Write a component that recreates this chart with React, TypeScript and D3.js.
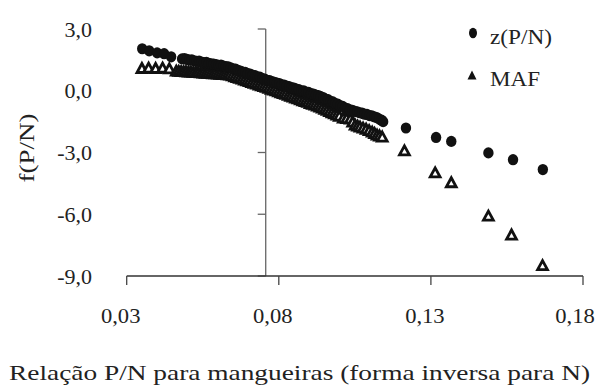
import React from "react";
import * as d3 from "d3";

const xTicks = [0.03, 0.08, 0.13, 0.18];
const yTicks = [3, 0, -3, -6, -9];

const zX = [0.0351, 0.0374, 0.0400, 0.0423, 0.0446,
  0.0482, 0.0490, 0.0498, 0.0506, 0.0514, 0.0522, 0.0530, 0.0538, 0.0546, 0.0554, 0.0562, 0.0570, 0.0578, 0.0586, 0.0594, 0.0602, 0.0610, 0.0618, 0.0626, 0.0634, 0.0642, 0.0650, 0.0658, 0.0666, 0.0674, 0.0682, 0.0690, 0.0698, 0.0706, 0.0714, 0.0722, 0.0730, 0.0738, 0.0746, 0.0754, 0.0762, 0.0770, 0.0778, 0.0786, 0.0794, 0.0802, 0.0810, 0.0818, 0.0826, 0.0834, 0.0842, 0.0850, 0.0858, 0.0866, 0.0874, 0.0882, 0.0890, 0.0898, 0.0906, 0.0914, 0.0922, 0.0930, 0.0938, 0.0946, 0.0954, 0.0962, 0.0970, 0.0978, 0.0986, 0.0994, 0.1002, 0.1010, 0.1018, 0.1026, 0.1034, 0.1042, 0.1050, 0.1058, 0.1066, 0.1074, 0.1082, 0.1090, 0.1098, 0.1106, 0.1114, 0.1122, 0.1130, 0.1138, 0.1143,
  0.1218, 0.1317, 0.1367, 0.1489, 0.1570, 0.1668];
const zY = [2.04, 1.94, 1.84, 1.80, 1.65,
  1.55, 1.56, 1.52, 1.49, 1.50, 1.45, 1.43, 1.44, 1.39, 1.37, 1.38, 1.33, 1.31, 1.29, 1.27, 1.24, 1.25, 1.20, 1.17, 1.16, 1.11, 1.07, 1.05, 0.99, 0.96, 0.91, 0.89, 0.83, 0.81, 0.75, 0.73, 0.67, 0.66, 0.59, 0.56, 0.51, 0.49, 0.44, 0.41, 0.37, 0.35, 0.29, 0.27, 0.22, 0.20, 0.15, 0.13, 0.08, 0.05, 0.00, -0.01, -0.07, -0.08, -0.14, -0.16, -0.21, -0.23, -0.29, -0.33, -0.40, -0.43, -0.51, -0.54, -0.62, -0.65, -0.73, -0.76, -0.84, -0.87, -0.93, -0.95, -1.00, -1.02, -1.07, -1.09, -1.14, -1.15, -1.21, -1.22, -1.27, -1.30, -1.38, -1.43, -1.50,
  -1.81, -2.27, -2.46, -3.02, -3.35, -3.83];

const mafX = [0.0350, 0.0372, 0.0395, 0.0418, 0.0440,
  0.0463, 0.0471, 0.0479, 0.0487, 0.0495, 0.0503, 0.0511, 0.0519, 0.0527, 0.0535, 0.0543, 0.0551, 0.0559, 0.0567, 0.0575, 0.0583, 0.0591, 0.0599, 0.0607, 0.0615, 0.0623, 0.0631, 0.0639, 0.0647, 0.0655, 0.0663, 0.0671, 0.0679, 0.0687, 0.0695, 0.0703, 0.0711, 0.0719, 0.0727, 0.0735, 0.0743, 0.0751, 0.0759, 0.0767, 0.0775, 0.0783, 0.0791, 0.0799, 0.0807, 0.0815, 0.0823, 0.0831, 0.0839, 0.0847, 0.0855, 0.0863, 0.0871, 0.0879, 0.0887, 0.0895, 0.0903, 0.0911, 0.0919, 0.0927, 0.0935, 0.0943, 0.0951, 0.0959, 0.0967, 0.0975, 0.0983, 0.0991, 0.0999, 0.1012, 0.1023, 0.1035, 0.1043, 0.1051, 0.1059, 0.1067, 0.1077, 0.1087, 0.1097, 0.1107, 0.1115, 0.1123, 0.1131, 0.1140,
  0.1213, 0.1314, 0.1367, 0.1489, 0.1565, 0.1667];
const mafY = [1.10, 1.12, 1.10, 1.12, 1.08,
  0.97, 0.96, 0.95, 0.95, 0.94, 0.93, 0.92, 0.91, 0.90, 0.90, 0.89, 0.88, 0.87, 0.86, 0.85, 0.84, 0.84, 0.83, 0.82, 0.81, 0.80, 0.79, 0.78, 0.74, 0.70, 0.66, 0.62, 0.58, 0.54, 0.50, 0.46, 0.42, 0.38, 0.34, 0.30, 0.26, 0.22, 0.18, 0.14, 0.09, 0.05, 0.01, -0.03, -0.08, -0.12, -0.16, -0.21, -0.25, -0.29, -0.34, -0.38, -0.42, -0.47, -0.51, -0.55, -0.60, -0.64, -0.68, -0.73, -0.77, -0.82, -0.88, -0.93, -0.99, -1.05, -1.10, -1.16, -1.22, -1.31, -1.33, -1.36, -1.50, -1.65, -1.70, -1.75, -1.80, -1.85, -1.92, -1.99, -2.06, -2.14, -2.18, -2.23,
  -2.90, -3.97, -4.45, -6.07, -6.99, -8.48];

const FONT = "'Liberation Serif', 'Times New Roman', 'DejaVu Serif', serif";
const FS = 22;

// Times-like advance widths (em) so the glyphs are fitted to the reference widths
const TW: Record<string, number> = {
  "0": 0.5, "1": 0.5, "2": 0.5, "3": 0.5, "4": 0.5, "5": 0.5, "6": 0.5, "7": 0.5, "8": 0.5, "9": 0.5,
  ",": 0.25, "-": 0.333, "(": 0.333, ")": 0.333, "/": 0.278, "P": 0.556, "N": 0.722, "z": 0.444,
  "M": 0.889, "A": 0.722, "F": 0.556, "f": 0.333,
};
const tw = (s: string) => s.split("").reduce((a, c) => a + (TW[c] ?? 0.5), 0) * FS;

export default function App() {
  const x = d3.scaleLinear().domain([0.03, 0.18]).range([126.7, 583]);
  const y = d3.scaleLinear().domain([-9, 3]).range([276, 29]);
  const fmtX = (v: number) => d3.format(".2f")(v).replace(".", ",").replace("\u2212", "-");
  const fmtY = (v: number) => d3.format(".1f")(v).replace(".", ",").replace("\u2212", "-");
  const yAxisX = x(0.0757);
  const tri = "M0,-4.6L4.9,4.4L-4.9,4.4Z";
  const ts = { fontFamily: FONT, fontSize: FS, fill: "#222" } as const;

  return (
    <svg width={599} height={387} style={{ position: "absolute", left: 0, top: 0, background: "#fff", fontFamily: FONT }}>
      <rect width={599} height={387} fill="#fff" />
      {/* y axis */}
      <line x1={yAxisX} x2={yAxisX} y1={y(3)} y2={y(-9)} stroke="#666" strokeWidth={1.3} />
      {yTicks.map((t) => (
        <line key={"yt" + t} x1={yAxisX - 8} x2={yAxisX} y1={y(t)} y2={y(t)} stroke="#666" strokeWidth={1.3} />
      ))}
      {yTicks.map((t) => {
        const s = fmtY(t);
        const w = tw(s);
        return (
          <text key={"yl" + t} x={92 - w} y={y(t) + 7.5} style={ts} textLength={w} lengthAdjust="spacingAndGlyphs">{s}</text>
        );
      })}
      {/* x axis */}
      <line x1={x(0.03)} x2={x(0.18)} y1={y(-9)} y2={y(-9)} stroke="#333" strokeWidth={1.3} />
      {xTicks.map((t) => (
        <line key={"xt" + t} x1={x(t)} x2={x(t)} y1={y(-9)} y2={y(-9) + 9} stroke="#444" strokeWidth={1.3} />
      ))}
      {xTicks.map((t, i) => {
        const s = fmtX(t);
        const w = tw(s) + 1;
        const shift = i === xTicks.length - 1 ? -8 : -6;
        return (
          <text key={"xl" + t} x={x(t) + shift - w / 2} y={323} style={ts} textLength={w} lengthAdjust="spacingAndGlyphs">{s}</text>
        );
      })}
      {/* titles */}
      <text x={9} y={380} style={ts} textLength={581} lengthAdjust="spacingAndGlyphs">Relação P/N para mangueiras (forma inversa para N)</text>
      <text transform="translate(34,148) rotate(-90)" x={-34.5} style={ts} textLength={69} lengthAdjust="spacingAndGlyphs">f(P/N)</text>
      {/* MAF triangles */}
      {mafX.map((v, i) => (
        <path key={"m" + i} d={tri} transform={`translate(${x(v)},${y(mafY[i])})`} fill="#fff" stroke="#111" strokeWidth={2.8} strokeLinejoin="miter" />
      ))}
      {/* z circles */}
      {zX.map((v, i) => (
        <ellipse key={"z" + i} cx={x(v)} cy={y(zY[i])} rx={5.2} ry={5.6} fill="#111" />
      ))}
      {/* legend */}
      <ellipse cx={473} cy={33} rx={4} ry={5.2} fill="#111" />
      <text x={490} y={44} style={ts} textLength={62} lengthAdjust="spacingAndGlyphs">z(P/N)</text>
      <path d="M472,70.5L476.5,79.5L467.5,79.5Z" fill="#111" />
      <text x={490} y={86} style={ts} textLength={50} lengthAdjust="spacingAndGlyphs">MAF</text>
    </svg>
  );
}
